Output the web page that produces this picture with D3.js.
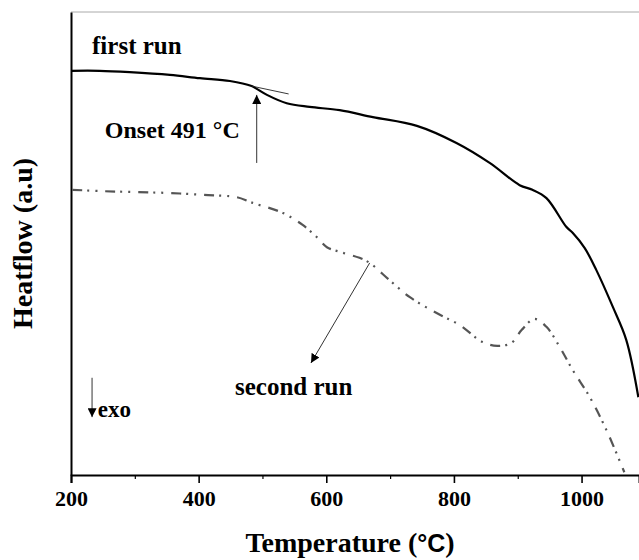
<!DOCTYPE html>
<html>
<head>
<meta charset="utf-8">
<script src="https://cdn.jsdelivr.net/npm/d3@7"></script>
<style>
  html, body { margin: 0; padding: 0; background: #fff; }
  svg { display: block; }
  text { font-family: "Liberation Serif", "Times New Roman", serif; font-weight: bold; fill: #000; }
</style>
</head>
<body>
<svg id="chart" width="639" height="560"></svg>
<script>
// ---- data (temperature in °C, heat flow in arbitrary units) ----
const firstRunT  = [200, 245, 292, 355, 402, 449, 483, 491, 507, 538, 574, 621, 673, 742, 804, 856, 903, 923, 945, 976, 986, 1005, 1023, 1049, 1070, 1089];
const firstRunHF = [87.3, 87.3, 87.0, 86.4, 85.7, 85.1, 84.0, 83.4, 82.1, 80.3, 79.5, 78.8, 77.3, 75.4, 71.7, 67.4, 62.6, 61.6, 59.8, 53.6, 52.3, 49.0, 44.3, 36.3, 29.2, 16.8];

const secondRunT  = [202, 250, 303, 355, 407, 460, 480, 491, 532, 563, 585, 601, 621, 652, 668, 699, 731, 778, 809, 845, 868, 890, 906, 926, 945, 966, 986, 1013, 1039, 1067];
const secondRunHF = [61.6, 61.3, 61.1, 60.9, 60.5, 60.0, 59.0, 58.5, 56.6, 54.0, 51.4, 49.2, 48.2, 46.9, 45.8, 42.1, 38.4, 34.6, 32.4, 28.7, 27.9, 28.5, 31.3, 33.7, 32.0, 27.6, 22.7, 16.8, 9.7, 0.6];

const xTicksMajor = [200, 400, 600, 800, 1000];
const xTicksMinor = [300, 500, 700, 900];
const xDomain = [200, 1090];
const yDomain = [0, 100];

// annotations (data coordinates)
const labelTexts = ["first run", "Onset 491 °C", "second run", "exo"];
const labelT     = [233, 253, 457, 242];
const labelHF    = [90.9, 72.8, 17.3, 12.5];
const labelSizes = [25, 24, 25, 23];

const onsetArrow   = {t: [491, 491], hf: [67.4, 82.1]};
const onsetTangent = {t: [483, 541], hf: [84.0, 82.3]};
const secondArrow  = {t: [668, 576], hf: [45.8, 24.2]};
const exoArrow     = {t: [233, 233], hf: [21.0, 12.5]};

const xTitleMain = "Temperature (";
const xTitleUnit = "°C";
const xTitleEnd  = ")";
const yTitle = "Heatflow (a.u)";

// ---- layout ----
const W = 639, H = 560;
const m = {left: 71, right: 0, top: 12, bottom: 85};
const svg = d3.select("#chart");

const x = d3.scaleLinear().domain(xDomain).range([m.left, W - m.right]);
const y = d3.scaleLinear().domain(yDomain).range([H - m.bottom, m.top]);

// defs: arrowheads
const defs = svg.append("defs");
defs.append("marker").attr("id", "ah").attr("viewBox", "0 0 10 10")
  .attr("refX", 10).attr("refY", 5).attr("markerWidth", 9).attr("markerHeight", 9)
  .attr("markerUnits", "userSpaceOnUse").attr("orient", "auto")
  .append("path").attr("d", "M0,0 L10,5 L0,10 z").attr("fill", "#000");

// top frame line
svg.append("line").attr("x1", x(xDomain[0])).attr("x2", x(xDomain[1]))
  .attr("y1", y(yDomain[1])).attr("y2", y(yDomain[1]))
  .attr("stroke", "#aaa").attr("stroke-width", 1);

// axes
const xAxis = d3.axisBottom(x).tickValues(xTicksMajor).tickSize(8).tickPadding(7).tickFormat(d3.format("d"));
const gx = svg.append("g").attr("transform", `translate(0,${y(yDomain[0])})`).call(xAxis);
gx.select(".domain").attr("stroke", "#000").attr("stroke-width", 2);
gx.selectAll(".tick line").attr("stroke", "#000").attr("stroke-width", 1.6);
gx.selectAll(".tick text").style("font-size", "22px").style("font-family", "Liberation Serif").style("font-weight", "bold").attr("fill", "#000");
const gxm = svg.append("g").attr("transform", `translate(0,${y(yDomain[0])})`)
  .call(d3.axisBottom(x).tickValues(xTicksMinor).tickSize(4).tickFormat(""));
gxm.select(".domain").remove();
gxm.selectAll(".tick line").attr("stroke", "#000").attr("stroke-width", 1.2);

const gy = svg.append("g").attr("transform", `translate(${x(xDomain[0])},0)`)
  .call(d3.axisLeft(y).tickValues([]).tickSize(0));
gy.select(".domain").attr("stroke", "#000").attr("stroke-width", 2);

// axis titles
const xt = svg.append("text").attr("x", 350).attr("y", H - 8)
  .attr("text-anchor", "middle").style("font-size", "28px");
xt.append("tspan").text(xTitleMain);
xt.append("tspan").style("font-family", "Liberation Sans").style("font-size", "25px").text(xTitleUnit);
xt.append("tspan").text(xTitleEnd);
svg.append("text").attr("transform", `translate(32,${(y(yDomain[0]) + y(yDomain[1])) / 2}) rotate(-90)`)
  .attr("text-anchor", "middle").style("font-size", "28px").text(yTitle);

// lines
defs.append("clipPath").attr("id", "plotclip").append("rect")
  .attr("x", x(xDomain[0])).attr("y", y(yDomain[1]))
  .attr("width", x(xDomain[1]) - x(xDomain[0])).attr("height", y(yDomain[0]) - y(yDomain[1]));

const line = d3.line().curve(d3.curveCatmullRom.alpha(0.5)).x(d => x(d[0])).y(d => y(d[1]));
const plot = svg.append("g").attr("clip-path", "url(#plotclip)");

plot.append("path").datum(d3.zip(secondRunT, secondRunHF)).attr("d", line)
  .attr("fill", "none").attr("stroke", "#555").attr("stroke-width", 2.2)
  .attr("stroke-dasharray", "10,5,2,6,2,8");

plot.append("path").datum(d3.zip(firstRunT, firstRunHF)).attr("d", line)
  .attr("fill", "none").attr("stroke", "#000").attr("stroke-width", 2.2);

// tangent
svg.append("line").attr("x1", x(onsetTangent.t[0])).attr("y1", y(onsetTangent.hf[0]))
  .attr("x2", x(onsetTangent.t[1])).attr("y2", y(onsetTangent.hf[1]))
  .attr("stroke", "#222").attr("stroke-width", 0.9);

// arrows
[onsetArrow, secondArrow, exoArrow].forEach(a => {
  svg.append("line").attr("x1", x(a.t[0])).attr("y1", y(a.hf[0]))
    .attr("x2", x(a.t[1])).attr("y2", y(a.hf[1]))
    .attr("stroke", "#333").attr("stroke-width", 1).attr("marker-end", "url(#ah)");
});

// labels
labelTexts.forEach((t, i) => {
  svg.append("text").attr("x", x(labelT[i])).attr("y", y(labelHF[i]))
    .style("font-size", labelSizes[i] + "px").text(t);
});
</script>
</body>
</html>
